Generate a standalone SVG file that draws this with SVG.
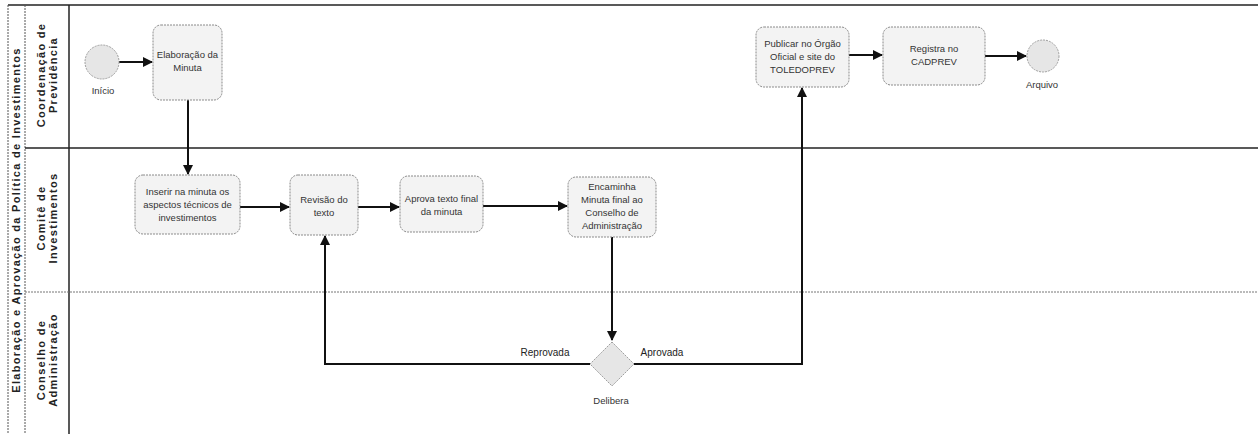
<svg xmlns="http://www.w3.org/2000/svg" width="1258" height="434" viewBox="0 0 1258 434">
<style>
.box{fill:#f3f3f3;stroke:#8a8a8a;stroke-width:1;stroke-dasharray:2 1}
.ev{fill:#e6e6e6;stroke:#a0a0a0;stroke-width:1;stroke-dasharray:2 1}
.t{font-family:"Liberation Sans",Arial,sans-serif;font-size:9.5px;fill:#333;text-anchor:middle}
.lbl{font-family:"Liberation Sans",Arial,sans-serif;font-size:10px;fill:#222;text-anchor:middle}
.lane{font-family:"Liberation Sans",Arial,sans-serif;font-size:11px;font-weight:bold;fill:#222;text-anchor:middle;letter-spacing:1.3px}
.c{fill:none;stroke:#111;stroke-width:2}
</style>
<defs>
<marker id="ah" viewBox="0 0 10 10" refX="9" refY="5" markerWidth="5" markerHeight="5" orient="auto" markerUnits="strokeWidth">
<path d="M0,0 L10,5 L0,10 z" fill="#111"/>
</marker>
</defs>
<rect width="1258" height="434" fill="#fff"/>
<g id="pool">
<line x1="8" y1="5" x2="1258" y2="5" stroke="#222" stroke-width="1.5"/>
<line x1="8" y1="5" x2="8" y2="434" stroke="#555" stroke-width="1" stroke-dasharray="2 1"/>
<line x1="25" y1="5" x2="25" y2="434" stroke="#555" stroke-width="1" stroke-dasharray="2 1"/>
<line x1="69" y1="5" x2="69" y2="434" stroke="#222" stroke-width="1.5"/>
<line x1="25" y1="148" x2="1258" y2="148" stroke="#222" stroke-width="1.5"/>
<line x1="25" y1="292" x2="1258" y2="292" stroke="#777" stroke-width="1" stroke-dasharray="2 1"/>
<text class="lane" transform="translate(20,220) rotate(-90)">Elaboração e Aprovação da Política de Investimentos</text>
<text class="lane" transform="translate(45,75) rotate(-90)">Coordenação de</text>
<text class="lane" transform="translate(57,75) rotate(-90)">Previdência</text>
<text class="lane" transform="translate(45,218) rotate(-90)">Comitê de</text>
<text class="lane" transform="translate(57,218) rotate(-90)">Investimentos</text>
<text class="lane" transform="translate(45,360) rotate(-90)">Conselho de</text>
<text class="lane" transform="translate(57,360) rotate(-90)">Administração</text>
</g>
<g id="connectors">
<line class="c" x1="119" y1="62" x2="152" y2="62" marker-end="url(#ah)"/>
<line class="c" x1="188" y1="100" x2="188" y2="174" marker-end="url(#ah)"/>
<line class="c" x1="240" y1="207" x2="289" y2="207" marker-end="url(#ah)"/>
<line class="c" x1="358" y1="207" x2="399" y2="207" marker-end="url(#ah)"/>
<line class="c" x1="483" y1="206" x2="567" y2="206" marker-end="url(#ah)"/>
<line class="c" x1="612" y1="237" x2="612" y2="340" marker-end="url(#ah)"/>
<polyline class="c" points="590,364 325,364 325,236" marker-end="url(#ah)"/>
<polyline class="c" points="634,364 802,364 802,88" marker-end="url(#ah)"/>
<line class="c" x1="849" y1="55" x2="882" y2="55" marker-end="url(#ah)"/>
<line class="c" x1="985" y1="56" x2="1026" y2="56" marker-end="url(#ah)"/>
<text class="lbl" x="545" y="356">Reprovada</text>
<text class="lbl" x="662" y="356">Aprovada</text>
</g>
<g id="inicio">
<circle class="ev" cx="102" cy="62" r="17"/>
<text class="t" x="103" y="94">Início</text>
</g>
<g id="elaboracao">
<rect class="box" x="153" y="25" width="69" height="75" rx="8"/>
<text class="t" x="187.5" y="58">Elaboração da</text>
<text class="t" x="187.5" y="71">Minuta</text>
</g>
<g id="inserir">
<rect class="box" x="135" y="175" width="105" height="59" rx="8"/>
<text class="t" x="187.5" y="195">Inserir na minuta os</text>
<text class="t" x="187.5" y="208">aspectos técnicos de</text>
<text class="t" x="187.5" y="221">investimentos</text>
</g>
<g id="revisao">
<rect class="box" x="290" y="175" width="68" height="60" rx="8"/>
<text class="t" x="324" y="203">Revisão do</text>
<text class="t" x="324" y="216">texto</text>
</g>
<g id="aprova">
<rect class="box" x="400" y="176" width="83" height="56" rx="8"/>
<text class="t" x="441.5" y="202">Aprova texto final</text>
<text class="t" x="441.5" y="215">da minuta</text>
</g>
<g id="encaminha">
<rect class="box" x="568" y="177" width="88" height="60" rx="8"/>
<text class="t" x="612" y="190">Encaminha</text>
<text class="t" x="612" y="203">Minuta final ao</text>
<text class="t" x="612" y="216">Conselho de</text>
<text class="t" x="612" y="229">Administração</text>
</g>
<g id="delibera">
<polygon class="ev" points="612,342 634,364 612,386 590,364"/>
<text class="t" x="611" y="404">Delibera</text>
</g>
<g id="publicar">
<rect class="box" x="756" y="27" width="93" height="60" rx="8"/>
<text class="t" x="802.5" y="47">Publicar no Órgão</text>
<text class="t" x="802.5" y="60">Oficial e site do</text>
<text class="t" x="802.5" y="73">TOLEDOPREV</text>
</g>
<g id="registra">
<rect class="box" x="883" y="27" width="102" height="58" rx="8"/>
<text class="t" x="934" y="52">Registra no</text>
<text class="t" x="934" y="65">CADPREV</text>
</g>
<g id="arquivo">
<circle class="ev" cx="1043" cy="56" r="16"/>
<text class="t" x="1042" y="88">Arquivo</text>
</g>
</svg>
